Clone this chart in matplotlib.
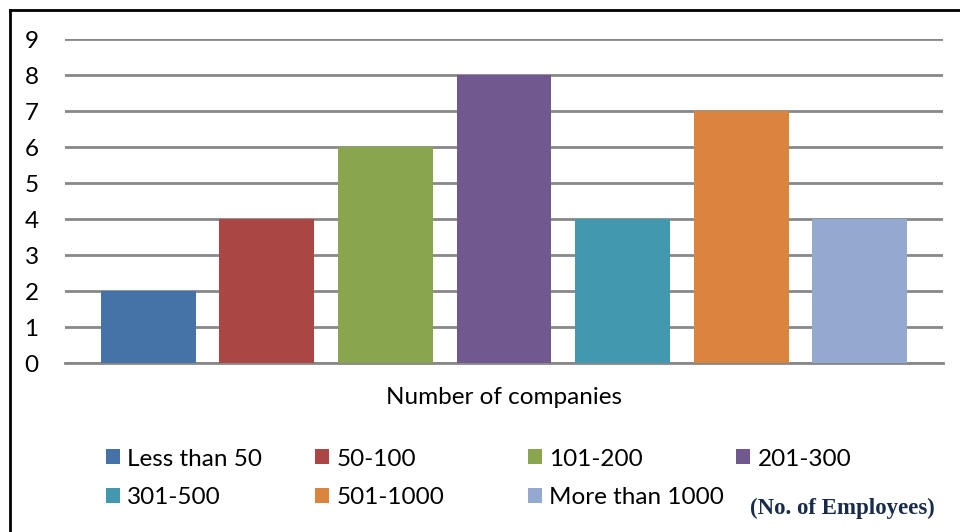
import matplotlib
matplotlib.use("Agg")
import matplotlib.pyplot as plt
from matplotlib.lines import Line2D
from matplotlib.patches import Patch
import numpy as np

# data
groups = ["Less than 50", "50-100", "101-200", "201-300",
          "301-500", "501-1000", "More than 1000"]
companies = [2, 4, 6, 8, 4, 7, 4]
colors = ["#4572A7", "#AA4643", "#89A54E", "#71588F",
          "#4198AF", "#DB843D", "#93A9CF"]
category = "Number of companies"
yticks = list(range(0, 10))

plt.rcParams["font.family"] = ["Lato", "DejaVu Sans"]
FS = 17.5

W, H = 960, 532
fig = plt.figure(figsize=(W / 100, H / 100), dpi=100)
ax = fig.add_axes([65 / W, 1 - 363 / H, (943 - 65) / W, (363 - 39) / H])

x = np.arange(len(groups))
ax.bar(x, companies, width=0.8, color=colors, zorder=3)

ax.set_xlim(-0.7, len(groups) - 0.3)
ax.set_ylim(0, 9)
ax.set_yticks(yticks)
ax.set_xticks([(len(groups) - 1) / 2])
ax.set_xticklabels([category])
ax.tick_params(axis="both", length=0, labelsize=FS, colors="black")
ax.tick_params(axis="y", pad=19)
ax.tick_params(axis="x", pad=17)
ax.grid(axis="y", color="#888888", linewidth=2, zorder=0)
for side in ["left", "right", "top"]:
    ax.spines[side].set_visible(False)
ax.spines["bottom"].set_color("#888888")
ax.spines["bottom"].set_linewidth(2)

# legend placed by hand, Excel-style columns
col_x = [106, 315, 528, 736]
row_y = [459, 498]
for i, (g, c) in enumerate(zip(groups, colors)):
    r, k = divmod(i, 4)
    fig.legend([Patch(facecolor=c)], [g], loc="center left",
               bbox_to_anchor=(col_x[k] / W, 1 - row_y[r] / H),
               frameon=False, borderpad=0, borderaxespad=0,
               handlelength=0.58, handleheight=0.58, handletextpad=0.3,
               fontsize=FS)

fig.text(935 / W, 1 - 508 / H, "(No. of Employees)", ha="right", va="center",
         family="Liberation Serif", fontweight="bold", fontsize=16.5,
         color="#172B4A")

# outer frame (left and top edges visible)
fig.add_artist(Line2D([9.5 / W, 9.5 / W], [0, 1 - 9.5 / H], color="black", lw=2))
fig.add_artist(Line2D([9.5 / W, 1], [1 - 9.5 / H, 1 - 9.5 / H], color="black", lw=2))

fig.savefig("out.png", dpi=100)
